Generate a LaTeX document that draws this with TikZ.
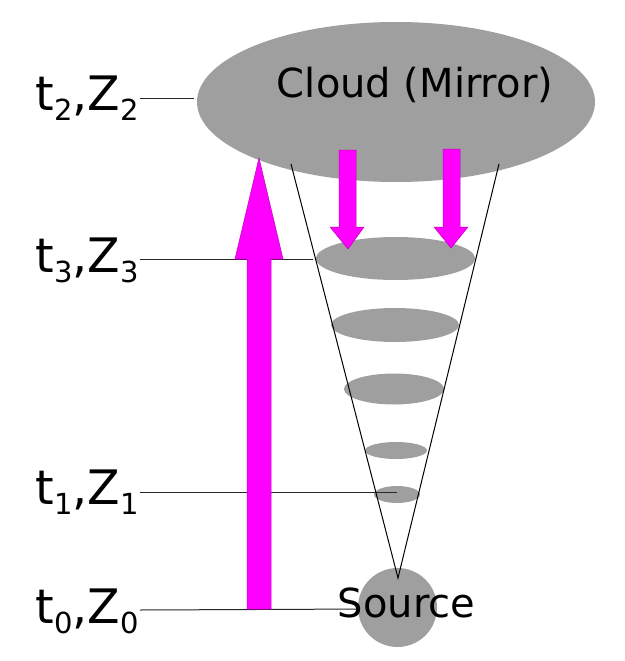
\documentclass[tikz,border=0pt]{standalone}
\usepackage{fontspec}
\setmainfont{DejaVu Sans}
\usetikzlibrary{shapes.geometric}
\definecolor{cgray}{HTML}{9F9F9F}
\definecolor{mag}{HTML}{FF00FF}
\newcommand\tsb[1]{\raisebox{-10pt}{\fontsize{29}{30}\selectfont #1}}
\begin{document}
\begin{tikzpicture}[x=1pt,y=-1pt,
  blob/.style={ellipse,fill=cgray,draw=none,inner sep=0},
  tline/.style={draw=black!85,line width=1pt},
  cone/.style={draw=black,line width=1pt},
  magarrow/.style={fill=mag,draw=mag!75!black,line width=0.5pt,line join=miter},
  tlabel/.style={anchor=base east,font=\fontsize{47.5}{50}\selectfont,inner sep=0},
  big/.style={font=\fontsize{40}{42}\selectfont,inner sep=0}]
\useasboundingbox (0,0) rectangle (624,661);

% cloud
\node[blob,minimum width=398,minimum height=160] (cloud) at (396,102) {};

% mirror layers
\node[blob,minimum width=159,minimum height=43] (m1) at (395.5,258.5) {};
\node[blob,minimum width=128,minimum height=34] (m2) at (395,325) {};
\node[blob,minimum width=100,minimum height=31] (m3) at (394,389) {};
\node[blob,minimum width=62,minimum height=17] (m4) at (396,450.5) {};
\node[blob,minimum width=46,minimum height=17] (m5) at (397,494.5) {};

% level lines
\coordinate (h2a) at (140,98);  \coordinate (h2b) at (194,98);
\coordinate (h3a) at (140,259); \coordinate (h3b) at (313,259);
\coordinate (h1a) at (140,492); \coordinate (h1b) at (397,492);
\coordinate (h0a) at (140,610); \coordinate (h0b) at (370,609);
\draw[tline] (h2a) -- (h2b);
\draw[tline] (h3a) -- (h3b);
\draw[tline] (h1a) -- (h1b);
\draw[tline] (h0a) -- (h0b);

% source
\node[circle,fill=cgray,inner sep=0,minimum size=79] (src) at (397.5,607.5) {};

% cone
\coordinate (cl) at (291,164);
\coordinate (cr) at (499,164);
\coordinate (apex) at (398,578);
\draw[cone] (cl) -- (apex) -- (cr);

% big upward arrow
\draw[magarrow] (247,609) -- (247,259) -- (235,259) -- (259,158) -- (283,259) -- (271,259) -- (271,609) -- cycle;

% small downward arrows
\draw[magarrow] (339,150) -- (356,150) -- (356,227) -- (364,227) -- (348,249) -- (330,227) -- (339,227) -- cycle;
\draw[magarrow] (443,149) -- (460,149) -- (460,227) -- (468,227) -- (451,248) -- (434,227) -- (443,227) -- cycle;

% texts
\node[big,anchor=base] (cloudtxt) at (415,97) {Cloud (Mirror)};
\node[big,anchor=base] (srctxt) at (406.5,617) {Source};

\node[tlabel] (l2) at (139,110) {t\tsb{2},Z\tsb{2}};
\node[tlabel] (l3) at (139,272) {t\tsb{3},Z\tsb{3}};
\node[tlabel] (l1) at (139,504) {t\tsb{1},Z\tsb{1}};
\node[tlabel] (l0) at (139,623) {t\tsb{0},Z\tsb{0}};
\end{tikzpicture}
\end{document}
